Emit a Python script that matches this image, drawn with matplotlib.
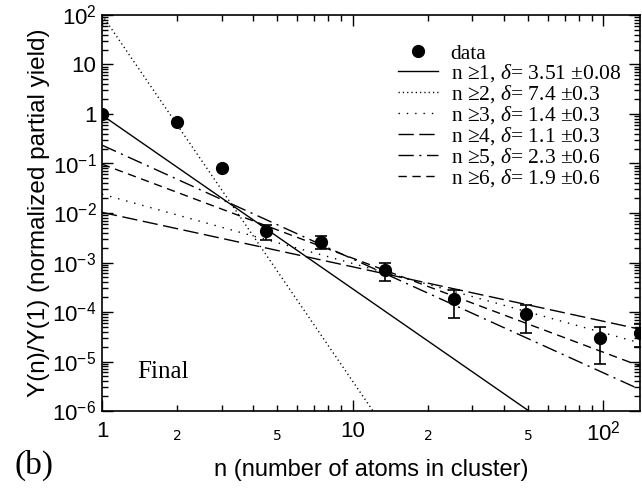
import numpy as np
import matplotlib
matplotlib.use("Agg")
import matplotlib.pyplot as plt
from matplotlib.ticker import FixedLocator, FuncFormatter, LogLocator, NullFormatter

plt.rcParams["mathtext.fontset"] = "custom"
plt.rcParams["mathtext.rm"] = "Liberation Sans"
plt.rcParams["mathtext.it"] = "Liberation Serif:italic"

# measured partial yields (normalized to n = 1)
n_data = [1, 2, 3, 4.5, 7.5, 13.5, 25.4, 49.3, 97.3, 140]
y_data = [1.0, 0.68, 0.08, 4.4e-3, 2.6e-3, 7.05e-4, 1.8e-4, 9.0e-5, 3.0e-5, 3.7e-5]
y_hi = [1.0, 0.68, 0.08, 5.7e-3, 3.4e-3, 1.0e-3, 2.8e-4, 1.38e-4, 5.05e-5, 5.6e-5]
y_lo = [1.0, 0.68, 0.08, 2.85e-3, 1.85e-3, 4.2e-4, 7.7e-5, 3.7e-5, 8.8e-6, 2.0e-5]

# power-law fits Y = A n^-delta for different lower cut-offs
fit_nmin = [1, 2, 3, 4, 5, 6]
fit_delta = [3.51, 7.4, 1.4, 1.1, 2.3, 1.9]
fit_err = ["0.08", "0.3", "0.3", "0.3", "0.6", "0.6"]
fit_amp = [0.95, 100.0, 0.024, 0.0103, 0.235, 0.097]

x_ticks = [1, 10, 100]
x_ticklabels = ["1", "10", "$10^{2}$"]
y_ticks = [1e-6, 1e-5, 1e-4, 1e-3, 1e-2, 1e-1, 1, 10, 100]
y_ticklabels = ["$10^{-6}$", "$10^{-5}$", "$10^{-4}$", "$10^{-3}$", "$10^{-2}$",
                "$10^{-1}$", "1", "10", "$10^{2}$"]

styles = [
    "-",
    (0, (0.9, 2.2)),
    (0, (1.0, 5.0)),
    (0, (11, 4)),
    (0, (11, 4, 1.5, 4)),
    (0, (6, 4)),
]

fig = plt.figure(figsize=(6.42, 4.93), dpi=100)
ax = fig.add_axes([102 / 642, 1 - 411 / 493, 538 / 642, 396 / 493])
ax.set_xscale("log")
ax.set_yscale("log")
ax.set_xlim(1, 140)
ax.set_ylim(1e-6, 1e2)

n_line = np.logspace(0, np.log10(140), 200)
handles = []
labels = []
for nmin, d, e, a, ls in zip(fit_nmin, fit_delta, fit_err, fit_amp, styles):
    h, = ax.plot(n_line, a * n_line ** (-d), color="black", lw=1.0, linestyle=ls)
    handles.append(h)
    labels.append(f"n \u2265{nmin}, $\\delta$= {d} \u00b1{e}")

yd = np.array(y_data)
err = np.vstack([yd - np.array(y_lo), np.array(y_hi) - yd])
ax.errorbar(n_data, y_data, yerr=err, fmt="o", color="black", ms=8.5,
            capsize=4, elinewidth=1.2, capthick=1.2, zorder=5)

ax.tick_params(which="both", direction="in", top=True, right=True, width=1)
ax.tick_params(which="major", length=8, labelsize=16, pad=7)
ax.tick_params(which="minor", length=4)
ax.xaxis.set_major_locator(FixedLocator(x_ticks))
ax.set_xticklabels(x_ticklabels, fontfamily="Liberation Sans")
ax.xaxis.set_minor_locator(LogLocator(base=10, subs=np.arange(2, 10)))


def minor_fmt(v, pos):
    m = v / 10 ** np.floor(np.log10(v) + 1e-9)
    if abs(m - 2) < 1e-6 or abs(m - 5) < 1e-6:
        return str(int(round(m)))
    return ""


ax.xaxis.set_minor_formatter(FuncFormatter(minor_fmt))
ax.tick_params(axis="x", which="minor", labelsize=10, pad=13)
ax.yaxis.set_major_locator(FixedLocator(y_ticks))
ax.set_yticklabels(y_ticklabels, fontfamily="Liberation Sans")
ax.yaxis.set_minor_locator(LogLocator(base=10, subs=np.arange(2, 10), numticks=20))
ax.yaxis.set_minor_formatter(NullFormatter())
ax.tick_params(axis="y", which="major", pad=4)

for sp in ax.spines.values():
    sp.set_linewidth(1.2)

ax.set_xlabel("n (number of atoms in cluster)", fontsize=17,
              fontfamily="Liberation Sans", labelpad=10)
ax.set_ylabel("Y(n)/Y(1) (normalized partial yield)", fontsize=17.5,
              fontfamily="Liberation Sans", labelpad=2)

data_handle, = ax.plot([], [], "o", color="black", ms=8.5)
leg = ax.legend([data_handle] + handles, ["data"] + labels, loc="upper left",
                bbox_to_anchor=(0.530, 0.955), frameon=False, borderpad=0,
                handlelength=1.85, handletextpad=0.6, labelspacing=-0.05,
                prop={"family": "Liberation Serif", "size": 15.5}, numpoints=1)

ax.text(137 / 642, 1 - 372 / 493, "Final", transform=fig.transFigure, fontsize=18,
        fontfamily="Liberation Serif", va="center")
fig.text(15 / 642, 1 - 465 / 493, "(b)", fontsize=24, fontfamily="Liberation Serif",
         va="center")

fig.savefig("out.png", dpi=100)
